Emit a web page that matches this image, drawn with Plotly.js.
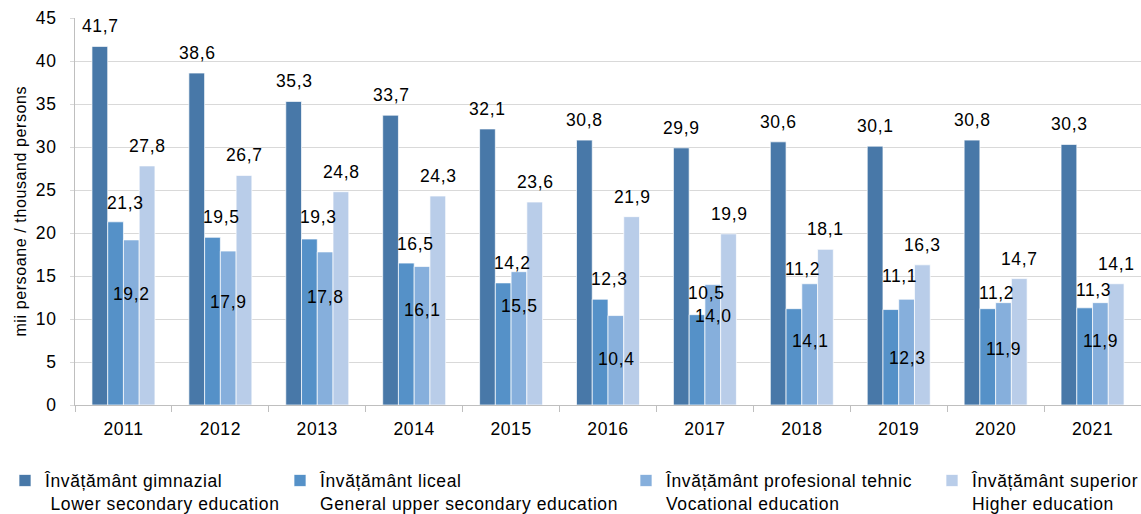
<!DOCTYPE html>
<html>
<head>
<meta charset="utf-8">
<script src="https://cdn.plot.ly/plotly-3.0.1.min.js"></script>
<style>
  html, body { margin: 0; padding: 0; background: #fff; }
  #chart { width: 1141px; height: 514px; }
  svg text { letter-spacing: 0.6px; }
</style>
</head>
<body>
<div id="chart"></div>
<script>
// ---- data ----
const years = ['2011','2012','2013','2014','2015','2016','2017','2018','2019','2020','2021'];
const gimnazial   = [41.7, 38.6, 35.3, 33.7, 32.1, 30.8, 29.9, 30.6, 30.1, 30.8, 30.3];
const liceal      = [21.3, 19.5, 19.3, 16.5, 14.2, 12.3, 10.5, 11.2, 11.1, 11.2, 11.3];
const profesional = [19.2, 17.9, 17.8, 16.1, 15.5, 10.4, 14.0, 14.1, 12.3, 11.9, 11.9];
const superior    = [27.8, 26.7, 24.8, 24.3, 23.6, 21.9, 19.9, 18.1, 16.3, 14.7, 14.1];
// label heights (in axis units) as placed in the source chart
const licealLabelY      = [23.5, 21.9, 21.9, 18.7, 16.5, 14.7, 13.0, 15.8, 15.0, 13.0, 13.4];
const profesionalLabelY = [12.9, 12.0, 12.6, 11.0, 11.5, 5.4, 10.4, 7.4, 5.5, 6.5, 7.5];

const seriesNames = [
  'Învățământ gimnazial<br> Lower secondary education',
  'Învățământ liceal<br>General upper secondary education',
  'Învățământ profesional tehnic<br>Vocational education',
  'Învățământ superior<br>Higher education'
];
const yTitle = 'mii persoane / thousand persons';
const colors = ['#4878a8', '#5591c8', '#86afdc', '#b9cde9'];
const FONT = 'Arial';

const fmt = v => v.toFixed(1).replace('.', ',');

const seriesValues = [gimnazial, liceal, profesional, superior];
const legendIds = ['legend', 'legend2', 'legend3', 'legend4'];

const traces = seriesValues.map((vals, k) => ({
  type: 'bar',
  x: years,
  y: vals,
  name: seriesNames[k],
  legend: legendIds[k],
  marker: { color: colors[k], line: { color: 'rgba(255,255,255,0.7)', width: 1 } },
  hoverinfo: 'x+y'
}));

const bargap = 0.35;
const barW = (1 - bargap) / 4;
const annotations = [];
years.forEach((yr, i) => {
  const off = k => i + (k - 1.5) * barW;
  annotations.push({ x: off(0), y: gimnazial[i], yshift: 20, text: fmt(gimnazial[i]) });
  annotations.push({ x: off(1), y: licealLabelY[i], xshift: 9, text: fmt(liceal[i]) });
  annotations.push({ x: off(2), y: profesionalLabelY[i], text: fmt(profesional[i]) });
  annotations.push({ x: off(3), y: superior[i], yshift: 20, text: fmt(superior[i]) });
});
annotations.forEach(a => {
  a.xref = 'x'; a.yref = 'y'; a.showarrow = false;
  a.xanchor = 'center'; a.yanchor = 'middle';
  a.font = { family: FONT, size: 17.5, color: '#000' };
});
// y-axis title (placed as a rotated annotation in the left margin)
annotations.push({
  xref: 'paper', yref: 'paper', x: -0.0515, y: 0.5,
  xanchor: 'center', yanchor: 'middle', textangle: -90, showarrow: false,
  text: yTitle, font: { family: FONT, size: 16, color: '#000' }
});

const legendBase = {
  orientation: 'v', yanchor: 'top', xanchor: 'left',
  xref: 'container', yref: 'container', y: 0.1,
  font: { family: FONT, size: 17.5, color: '#000' },
  bgcolor: 'rgba(0,0,0,0)', valign: 'top', tracegroupgap: 0
};
const legendX = [5, 280, 626, 932].map(px => px / 1141);

const layout = {
  width: 1141, height: 514,
  margin: { l: 75, r: 0, t: 18, b: 109, autoexpand: false },
  paper_bgcolor: '#fff', plot_bgcolor: '#fff',
  barmode: 'group', bargap: bargap, bargroupgap: 0,
  font: { family: FONT, size: 17.5, color: '#000' },
  showlegend: true,
  xaxis: {
    type: 'category', tickson: 'boundaries', ticks: 'outside', ticklen: 6,
    tickcolor: '#bfbfbf', showline: true, linecolor: '#bfbfbf', linewidth: 1,
    showgrid: false, ticklabelstandoff: 8,
    tickfont: { family: FONT, size: 17.5, color: '#000' }, fixedrange: true
  },
  yaxis: {
    range: [0, 45], dtick: 5, tick0: 0, ticks: 'outside', ticklen: 4,
    tickcolor: '#d9d9d9', showline: true, linecolor: '#bfbfbf', linewidth: 1,
    gridcolor: '#d9d9d9', gridwidth: 1, zeroline: false, ticklabelstandoff: 10,
    tickfont: { family: FONT, size: 17.5, color: '#000' },
    fixedrange: true
  },
  annotations: annotations
};
legendIds.forEach((id, k) => {
  layout[id] = Object.assign({}, legendBase, { x: legendX[k] });
});

Plotly.newPlot('chart', traces, layout, { displayModeBar: false, staticPlot: true });
</script>
</body>
</html>
